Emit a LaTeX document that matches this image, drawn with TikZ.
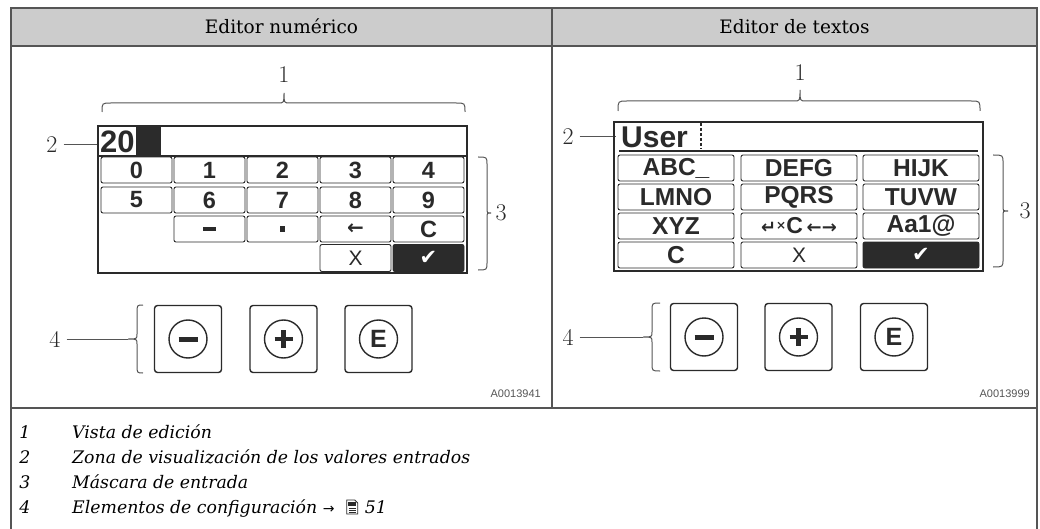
\documentclass[tikz,border=0pt]{standalone}
\usepackage{fontspec}
\newfontfamily\hdr{DejaVu Serif}
\newfontfamily\keyf{Liberation Sans}
\newfontfamily\dvs{DejaVu Sans}
\usetikzlibrary{calc}
\definecolor{ln}{HTML}{555555}
\definecolor{hd}{HTML}{CCCCCC}
\definecolor{ink}{HTML}{2A2A2A}
\definecolor{blk}{HTML}{2B2B2B}
\newcommand\bracev[6]{%
\draw[brc] (#1,#4) .. controls (#2,#4) .. (#2,{#4+8}) -- (#2,{#5-5}) .. controls (#2,#5) .. (#3,#5) .. controls (#2,#5) .. (#2,{#5+5}) -- (#2,{#6-8}) .. controls (#2,#6) .. (#1,#6);}
\newcommand\braceh[6]{%
\draw[brc] (#4,#1) .. controls (#4,#2) .. ({#4+9},#2) -- ({#5-6},#2) .. controls (#5,#2) .. (#5,#3) .. controls (#5,#2) .. ({#5+6},#2) -- ({#6-9},#2) .. controls (#6,#2) .. (#6,#1);}
\begin{document}
\begin{tikzpicture}[x=1pt,y=-1pt,
  frame/.style={draw=ln,line width=1.2},
  hdrtxt/.style={anchor=base,inner sep=0,font=\hdr\fontsize{18.5}{18.5}\selectfont},
  brc/.style={draw=ln,line width=1},
  lab/.style={inner sep=0,font=\fontsize{24}{24}\selectfont,text=ink},
  lead/.style={draw=ln,line width=1},
  disp/.style={draw=ink,line width=1.4},
  nkey/.style={draw=ink,rounded corners=2,line width=0.9,inner sep=0,minimum width=71,minimum height=26,font=\keyf\bfseries\fontsize{23.5}{23.5}\selectfont,text=ink},
  tkey/.style={draw=ink,rounded corners=2,line width=0.9,inner sep=0,minimum width=116,minimum height=26,font=\keyf\bfseries\fontsize{24.5}{24.5}\selectfont,text=ink},
  btn/.style={draw=ink,rounded corners=3,line width=1.4,minimum size=67,inner sep=0},
  circ/.style={draw=ink,circle,line width=1.4,minimum size=38,inner sep=0,font=\keyf\bfseries\fontsize{25}{25}\selectfont,text=ink},
  idtxt/.style={anchor=base east,inner sep=0,font=\keyf\fontsize{11}{11}\selectfont,text=ln},
  lnum/.style={anchor=base,inner sep=0,font=\hdr\itshape\fontsize{17.3}{17.3}\selectfont},
  ltxt/.style={anchor=base west,inner sep=0,font=\hdr\itshape\fontsize{17.3}{17.3}\selectfont}]
\useasboundingbox (0,0) rectangle (1040,529);
\fill[white] (0,0) rectangle (1040,529);
% table
\fill[hd] (11,8) rectangle (1037,46);
\draw[frame] (11,529) -- (11,8) -- (1037,8) -- (1037,529);
\draw[frame,line width=1.6] (11,46) -- (1037,46);
\draw[frame] (552,46) -- (552,408);
\draw[frame] (552,8) -- (552,46);
\draw[frame] (11,408) -- (1037,408);
\node[hdrtxt] (h1) at (281.5,33.5) {Editor numérico};
\node[hdrtxt] (h2) at (794.5,33.5) {Editor de textos};

% ===== left: numeric editor =====
\node[lab] (l1a) at (284,75) {1};
\braceh{112}{103}{93}{102}{284}{465}
\node[lab] (l2a) at (52,145) {2};
\coordinate (p2a) at (99,145);
\draw[lead] (l2a.east) ++(6,0) -- (p2a);
\node[disp,minimum width=369,minimum height=147,inner sep=0] (dL) at (282.5,199.5) {};
\draw[ink,line width=1.2] (98,156) -- (467,156);
\draw[ink,line width=1.2] (137,126) -- (137,156);
\fill[blk] (137,126) rectangle (161,156);
\node[anchor=west,inner sep=0,font=\keyf\bfseries\fontsize{31}{31}\selectfont,text=ink] (v20) at (100,141.5) {20};
\foreach \t [count=\i] in {0,1,2,3,4}
  \node[nkey] (ka\i) at ({136.5+73*(\i-1)},170) {\t};
\foreach \t [count=\i] in {5,6,7,8,9}
  \node[nkey] (kb\i) at ({136.5+73*(\i-1)},200) {\t};
\node[nkey] (kc2) at (209.5,229) {\rule[-2.3pt]{13pt}{4.6pt}};
\node[nkey] (kc3) at (282.5,229) {\rule[-2.8pt]{5.6pt}{5.6pt}};
\node[nkey] (kc4) at (355.5,229) {\dvs\bfseries\fontsize{20}{20}\selectfont ←};
\node[nkey] (kc5) at (428.5,229) {C};
\node[nkey,minimum height=27] (kd4) at (355.5,258) {\keyf\mdseries\fontsize{21}{21}\selectfont X};
\node[nkey,minimum height=27,fill=blk,text=white] (kd5) at (428.5,258) {\dvs\mdseries\fontsize{21}{21}\selectfont ✔};
\bracev{478}{487}{491}{157}{213}{270}
\node[lab] (l3a) at (501,213) {3};
% buttons
\node[btn] (bLm) at (188,339) {};
\node[btn] (bLp) at (283.5,339) {};
\node[btn] (bLe) at (378.5,339) {};
\node[circ] (cLm) at (bLm) {};
\node[circ] (cLp) at (bLp) {};
\node[circ] (cLe) at (bLe) {E};
\draw[ink,line width=5] ($(cLm)+(-9.5,0)$) -- ($(cLm)+(9.5,0)$);
\draw[ink,line width=4.5] ($(cLp)+(-9,0)$) -- ($(cLp)+(9,0)$);
\draw[ink,line width=4.5] ($(cLp)+(0,-9)$) -- ($(cLp)+(0,9)$);
\bracev{143}{137}{128}{305}{339}{373}
\node[lab] (l4a) at (55,339) {4};
\coordinate (p4a) at (128,339);
\draw[lead] (l4a.east) ++(6,0) -- (p4a);
\node[idtxt] (idL) at (541,397) {A0013941};

% ===== right: text editor =====
\node[lab] (l1b) at (800,73) {1};
\braceh{111}{101}{90}{618}{800}{980}
\node[lab] (l2b) at (568,137) {2};
\coordinate (p2b) at (616,137);
\draw[lead] (l2b.east) ++(6,0) -- (p2b);
\node[disp,minimum width=369,minimum height=149,inner sep=0] (dR) at (798.5,196.5) {};
\draw[ink,line width=1.2] (619,151) -- (978,151);
\node[anchor=west,inner sep=0,font=\keyf\bfseries\fontsize{30}{30}\selectfont,text=ink] (vusr) at (621,137) {User};
\draw[ink,line width=1.5,dash pattern=on 3pt off 2pt] (701,123) -- (701,149);
\node[tkey] (ta1) at (676,168) {ABC\_};
\node[tkey] (ta2) at (799,168) {DEFG};
\node[tkey] (ta3) at (921,168) {HIJK};
\node[tkey] (tb1) at (676,197) {LMNO};
\node[tkey] (tb2) at (799,197) {PQRS};
\node[tkey] (tb3) at (921,197) {TUVW};
\node[tkey] (tc1) at (676,226) {XYZ};
\node[tkey] (tc2) at (799,226) {\dvs\bfseries\fontsize{18}{18}\selectfont ↵\raisebox{4pt}{\fontsize{12}{12}\selectfont ×}\keyf\fontsize{23}{23}\selectfont C\,\dvs\fontsize{18}{18}\selectfont ←→};
\node[tkey] (tc3) at (921,226) {Aa1@};
\node[tkey] (td1) at (676,255) {C};
\node[tkey] (td2) at (799,255) {\keyf\mdseries\fontsize{21}{21}\selectfont X};
\node[tkey,fill=blk,text=white] (td3) at (921,255) {\dvs\mdseries\fontsize{21}{21}\selectfont ✔};
\bracev{993}{1003}{1008}{155}{211}{267}
\node[lab] (l3b) at (1025,211) {3};
% buttons
\node[btn] (bRm) at (704,337) {};
\node[btn] (bRp) at (798.5,337) {};
\node[btn] (bRe) at (894,337) {};
\node[circ] (cRm) at (bRm) {};
\node[circ] (cRp) at (bRp) {};
\node[circ] (cRe) at (bRe) {E};
\draw[ink,line width=5] ($(cRm)+(-9.5,0)$) -- ($(cRm)+(9.5,0)$);
\draw[ink,line width=4.5] ($(cRp)+(-9,0)$) -- ($(cRp)+(9,0)$);
\draw[ink,line width=4.5] ($(cRp)+(0,-9)$) -- ($(cRp)+(0,9)$);
\bracev{660}{652}{643}{303}{337}{371}
\node[lab] (l4b) at (568,337) {4};
\coordinate (p4b) at (643,337);
\draw[lead] (l4b.east) ++(6,0) -- (p4b);
\node[idtxt] (idR) at (1030,397) {A0013999};

% ===== legend =====
\node[lnum] (n1) at (25,438) {1};
\node[ltxt] (t1) at (72,438) {Vista de edición};
\node[lnum] (n2) at (25,463) {2};
\node[ltxt] (t2) at (72,463) {Zona de visualización de los valores entrados};
\node[lnum] (n3) at (25,488) {3};
\node[ltxt] (t3) at (72,488) {Máscara de entrada};
\node[lnum] (n4) at (25,513) {4};
\node[ltxt] (t4) at (72,513) {Elementos de configuración {\dvs\upshape\fontsize{14}{14}\selectfont →}};
\coordinate (ic) at ($(t4.base east)+(12,-6)$);
\draw[ink,line width=0.9] ($(ic)+(0,-7)$) -- ($(ic)+(8,-7)$) -- ($(ic)+(11,-4)$) -- ($(ic)+(11,7)$) -- ($(ic)+(0,7)$) -- cycle;
\fill[ink] ($(ic)+(1.5,-5.5)$) rectangle ($(ic)+(9.5,-1)$);
\draw[ink,line width=0.8] ($(ic)+(2,1)$) -- ($(ic)+(9,1)$) ($(ic)+(2,3)$) -- ($(ic)+(9,3)$) ($(ic)+(2,5)$) -- ($(ic)+(9,5)$);
\node[ltxt] (t51) at ($(t4.base east)+(30,0)$) {51};
\end{tikzpicture}
\end{document}
